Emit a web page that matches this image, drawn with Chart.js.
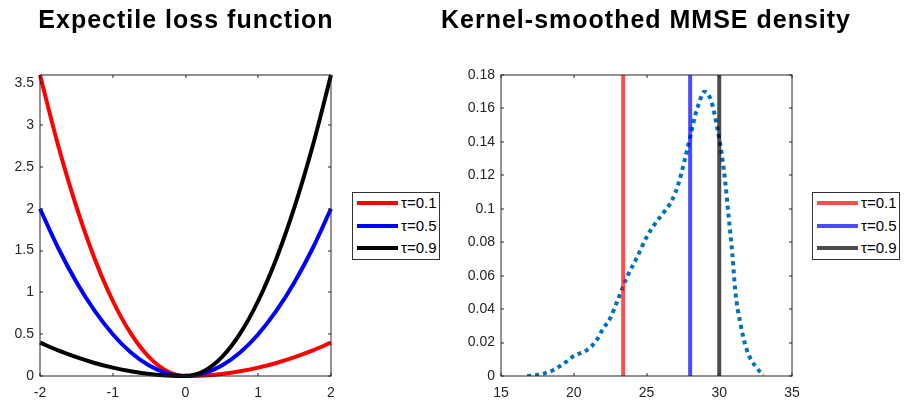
<!DOCTYPE html>
<html>
<head>
<meta charset="utf-8">
<title>Expectile loss and MMSE density</title>
<script src="https://cdn.jsdelivr.net/npm/chart.js@4.4.1/dist/chart.umd.min.js"></script>
<style>
  body { margin: 0; background: #fff; }
  #wrap { position: relative; width: 907px; height: 402px; overflow: hidden; font-family: "Liberation Sans", Arial, sans-serif; }
  canvas { position: absolute; top: 0; }
  .title { position: absolute; top: 7px; font-size: 25px; line-height: 1; font-weight: bold; letter-spacing: 1px; white-space: nowrap; transform: translateX(-50%); color: #000; }
  .legend { position: absolute; top: 192px; width: 86px; height: 66px; border: 1px solid #333; background: #fff; }
  .legend .swatch { position: absolute; left: 4px; width: 41px; height: 4px; }
  .legend .label { position: absolute; left: 48px; font-size: 15px; line-height: 15px; color: #000; white-space: nowrap; }
</style>
</head>
<body>
<div id="wrap">
  <canvas id="lossChart" width="450" height="402" style="left:0"></canvas>
  <canvas id="densChart" width="457" height="402" style="left:450px"></canvas>
  <div class="title" style="left:186px">Expectile loss function</div>
  <div class="title" style="left:646px">Kernel-smoothed MMSE density</div>
  <div class="legend" id="lossLegend" style="left:352px"></div>
  <div class="legend" id="densLegend" style="left:812px"></div>
</div>
<script>
// Left panel: expectile loss for three tau values
const lossX = [-2, -1.75, -1.5, -1.25, -1, -0.75, -0.5, -0.25, 0, 0.25, 0.5, 0.75, 1, 1.25, 1.5, 1.75, 2];
const lossTau01 = [3.6, 2.756, 2.025, 1.406, 0.9, 0.506, 0.225, 0.056, 0, 0.006, 0.025, 0.056, 0.1, 0.156, 0.225, 0.306, 0.4];
const lossTau05 = [2, 1.531, 1.125, 0.781, 0.5, 0.281, 0.125, 0.031, 0, 0.031, 0.125, 0.281, 0.5, 0.781, 1.125, 1.531, 2];
const lossTau09 = [0.4, 0.306, 0.225, 0.156, 0.1, 0.056, 0.025, 0.006, 0, 0.056, 0.225, 0.506, 0.9, 1.406, 2.025, 2.756, 3.6];
const lossXTicks = [-2, -1, 0, 1, 2];
const lossYTicks = [0, 0.5, 1, 1.5, 2, 2.5, 3, 3.5];

// Right panel: density curve and three expectiles
const densX = [16.8, 17.45, 18.0, 18.6, 19.5, 20.0, 20.9, 21.5, 22.0, 22.5, 23.05, 23.65, 24.35, 25.0, 25.5, 26.2, 26.75, 27.2, 27.65, 28.0, 28.35, 28.6, 28.95, 29.2, 29.5, 29.85, 30.2, 30.4, 30.65, 30.9, 31.1, 31.45, 31.9, 32.5, 33.05];
const densY = [0, 0.0006, 0.0016, 0.0036, 0.0086, 0.012, 0.0155, 0.0205, 0.028, 0.0345, 0.046, 0.059, 0.071, 0.083, 0.090, 0.098, 0.105, 0.115, 0.130, 0.143, 0.156, 0.163, 0.170, 0.169, 0.163, 0.149, 0.131, 0.117, 0.095, 0.073, 0.051, 0.0315, 0.0155, 0.0056, 0.0006];
const expectiles = [23.4, 28.0, 30.0];
const densXTicks = [15, 20, 25, 30, 35];
const densYTicks = [0, 0.02, 0.04, 0.06, 0.08, 0.1, 0.12, 0.14, 0.16, 0.18];

const tauNames = ['τ=0.1', 'τ=0.5', 'τ=0.9'];
const lossColors = ['#ff0000', '#0000ff', '#000000'];
const densColors = ['rgba(255,0,0,0.7)', 'rgba(0,0,255,0.7)', 'rgba(0,0,0,0.7)'];

const FONT = { family: '"Liberation Sans", Arial, sans-serif', size: 14 };
const AXIS = '#262626';

// MATLAB style box with inward ticks on all sides
const boxPlugin = {
  id: 'boxAxes',
  afterDatasetsDraw(chart) {
    const { ctx, chartArea: a, scales } = chart;
    ctx.save();
    ctx.strokeStyle = AXIS;
    ctx.lineWidth = 1;
    ctx.strokeRect(a.left, a.top, a.right - a.left, a.bottom - a.top);
    ctx.beginPath();
    scales.x.ticks.forEach(t => {
      const px = Math.round(scales.x.getPixelForValue(t.value));
      ctx.moveTo(px, a.bottom); ctx.lineTo(px, a.bottom - 3);
      ctx.moveTo(px, a.top); ctx.lineTo(px, a.top + 3);
    });
    scales.y.ticks.forEach(t => {
      const py = Math.round(scales.y.getPixelForValue(t.value));
      ctx.moveTo(a.left, py); ctx.lineTo(a.left + 3, py);
      ctx.moveTo(a.right, py); ctx.lineTo(a.right - 3, py);
    });
    ctx.stroke();
    ctx.restore();
  }
};

function axisScales(xMin, xMax, xTicks, yMax, yTicks, yWidth) {
  return {
    x: {
      type: 'linear', min: xMin, max: xMax,
      grid: { display: false, drawTicks: false }, border: { display: false },
      afterBuildTicks: s => { s.ticks = xTicks.map(v => ({ value: v })); },
      afterFit: s => { s.height = 26; },
      ticks: { color: AXIS, font: FONT, padding: 9, maxRotation: 0, autoSkip: false, callback: v => String(v) }
    },
    y: {
      type: 'linear', min: 0, max: yMax,
      grid: { display: false, drawTicks: false }, border: { display: false },
      afterBuildTicks: s => { s.ticks = yTicks.map(v => ({ value: v })); },
      afterFit: s => { s.width = yWidth; },
      ticks: { color: AXIS, font: FONT, padding: 6, autoSkip: false, callback: v => String(v) }
    }
  };
}

const pts = (xs, ys) => xs.map((x, i) => ({ x: x, y: ys[i] }));

new Chart(document.getElementById('lossChart'), {
  type: 'line',
  data: {
    datasets: [lossTau01, lossTau05, lossTau09].map((ys, i) => ({
      label: tauNames[i],
      data: pts(lossX, ys),
      borderColor: lossColors[i],
      borderWidth: 4,
      pointRadius: 0,
      cubicInterpolationMode: 'monotone',
      clip: false,
      order: 3 - i
    }))
  },
  options: {
    responsive: false, animation: false, devicePixelRatio: 1,
    layout: { padding: { top: 75, right: 119, left: 0, bottom: 0 } },
    plugins: { legend: { display: false }, tooltip: { enabled: false } },
    scales: axisScales(-2, 2, lossXTicks, 3.6, lossYTicks, 40)
  },
  plugins: [boxPlugin]
});

new Chart(document.getElementById('densChart'), {
  type: 'line',
  data: {
    datasets: [{
      label: 'density',
      data: pts(densX, densY),
      borderColor: '#0072bd',
      borderWidth: 4,
      borderDash: [4, 4],
      borderCapStyle: 'butt',
      pointRadius: 0,
      cubicInterpolationMode: 'monotone',
      order: 4
    }].concat(expectiles.map((q, i) => ({
      label: tauNames[i],
      data: [{ x: q, y: 0 }, { x: q, y: 0.18 }],
      borderColor: densColors[i],
      borderWidth: 4,
      pointRadius: 0,
      clip: false,
      order: 3 - i
    })))
  },
  options: {
    responsive: false, animation: false, devicePixelRatio: 1,
    layout: { padding: { top: 75, right: 115, left: 0, bottom: 0 } },
    plugins: { legend: { display: false }, tooltip: { enabled: false } },
    scales: axisScales(15, 35, densXTicks, 0.18, densYTicks, 51)
  },
  plugins: [boxPlugin]
});

// legends
function buildLegend(id, colors) {
  const box = document.getElementById(id);
  const rows = [10, 32.5, 55];
  tauNames.forEach((name, i) => {
    const sw = document.createElement('div');
    sw.className = 'swatch';
    sw.style.top = (rows[i] - 2) + 'px';
    sw.style.background = colors[i];
    box.appendChild(sw);
    const lb = document.createElement('div');
    lb.className = 'label';
    lb.style.top = (rows[i] - 8) + 'px';
    lb.textContent = name;
    box.appendChild(lb);
  });
}
buildLegend('lossLegend', lossColors);
buildLegend('densLegend', densColors);
</script>
</body>
</html>
